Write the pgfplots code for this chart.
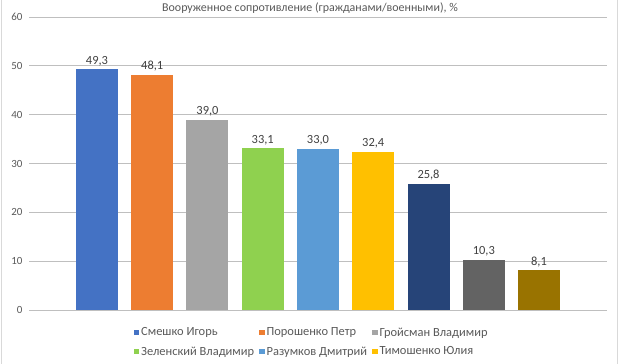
\documentclass[border=0pt]{standalone}
\usepackage{fontspec}
\setmainfont{Carlito}
\usepackage{pgfplots}
\pgfplotsset{compat=1.18}
\definecolor{c1}{HTML}{4472C4}
\definecolor{c2}{HTML}{ED7D31}
\definecolor{c3}{HTML}{A5A5A5}
\definecolor{c4}{HTML}{8FD14F}
\definecolor{c5}{HTML}{5B9BD5}
\definecolor{c6}{HTML}{FFC000}
\definecolor{c7}{HTML}{264478}
\definecolor{c8}{HTML}{636363}
\definecolor{c9}{HTML}{997300}
\definecolor{txt}{HTML}{595959}
\definecolor{grid}{HTML}{D9D9D9}
\begin{document}
\begin{tikzpicture}
\useasboundingbox (-29bp,-54bp) rectangle (591bp,310bp);
\draw[grid,line width=0.8bp] (-28bp,-54bp) -- (-28bp,310bp);
\draw[grid,line width=0.8bp] (588bp,-54bp) -- (588bp,310bp);
\node[font=\fontsize{12}{14}\selectfont, text=txt, anchor=base] at (281bp,298bp) {Вооруженное сопротивление (гражданами/военными), \%};
\begin{axis}[
  at={(0,0)}, anchor=south west,
  scale only axis, width=578bp, height=293bp,
  xmin=-1.23, xmax=9.23, ymin=0, ymax=60,
  ytick={0,10,...,60}, xtick=\empty,
  axis line style={draw=none},
  ymajorgrids, grid style={grid, line width=0.8bp},
  major tick length=0pt,
  yticklabel style={font=\fontsize{11}{13}\selectfont, text=txt},
  yticklabel shift=3bp,
  /pgf/number format/assume math mode=true,
  ybar, bar width=42bp, bar shift=0pt,
  nodes near coords,
  nodes near coords style={font=\fontsize{12.5}{14}\selectfont, text=black!75, /pgf/number format/.cd, use comma, fixed, fixed zerofill, precision=1, assume math mode=true},
  legend columns=3,
  legend cell align=left,
  legend style={draw=none, fill=none, inner sep=0pt, at={(0.489,-0.053)}, anchor=north, font=\fontsize{12.5}{14}\selectfont, text=txt, /tikz/every even column/.append style={column sep=3bp}, /tikz/every odd column/.append style={column sep=0bp}, row sep=5bp},
  legend image code/.code={\fill[#1] (0bp,-2.5bp) rectangle (5.5bp,3bp);},
]
\addplot[fill=c1, draw=none] coordinates {(0,49.3)};
\addlegendentry{Смешко Игорь}
\addplot[fill=c2, draw=none] coordinates {(1,48.1)};
\addlegendentry{Порошенко Петр}
\addplot[fill=c3, draw=none] coordinates {(2,39.0)};
\addlegendentry{Гройсман Владимир}
\addplot[fill=c4, draw=none] coordinates {(3,33.1)};
\addlegendentry{Зеленский Владимир}
\addplot[fill=c5, draw=none] coordinates {(4,33.0)};
\addlegendentry{Разумков Дмитрий}
\addplot[fill=c6, draw=none] coordinates {(5,32.4)};
\addlegendentry{Тимошенко Юлия}
\addplot[fill=c7, draw=none, forget plot] coordinates {(6,25.8)};
\addplot[fill=c8, draw=none, forget plot] coordinates {(7,10.3)};
\addplot[fill=c9, draw=none, forget plot] coordinates {(8,8.1)};
\end{axis}
\end{tikzpicture}
\end{document}
